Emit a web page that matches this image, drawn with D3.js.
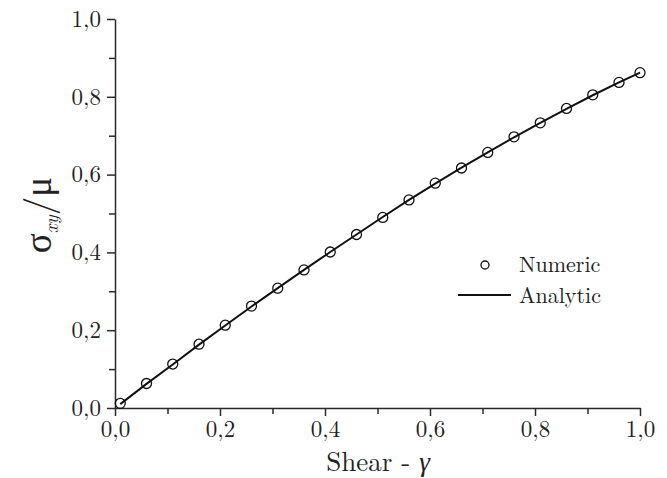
<!DOCTYPE html>
<html lang="en">
<head>
  <meta charset="utf-8">
  <title>Shear stress</title>
  <script src="https://d3js.org/d3.v7.min.js" charset="utf-8"></script>
</head>
<body style="margin:0; background:#fff;">
  <svg id="chart" width="667" height="478" xmlns="http://www.w3.org/2000/svg"></svg>
  <script type="text/javascript">
    // values
    var gamma = [0.01, 0.06, 0.11, 0.16, 0.21, 0.26, 0.31, 0.36, 0.41, 0.46, 0.51,
                 0.56, 0.61, 0.66, 0.71, 0.76, 0.81, 0.86, 0.91, 0.96, 1.0];
    var numeric = [0.012, 0.063, 0.113, 0.164, 0.213, 0.262, 0.308, 0.355, 0.401, 0.446, 0.490,
                   0.535, 0.578, 0.617, 0.657, 0.697, 0.733, 0.770, 0.805, 0.837, 0.862];
    var analytic = [0.010, 0.062, 0.112, 0.163, 0.212, 0.261, 0.308, 0.355, 0.401, 0.446, 0.491,
                    0.535, 0.577, 0.618, 0.657, 0.696, 0.733, 0.769, 0.804, 0.837, 0.862];
    var majorTicks = [0, 0.2, 0.4, 0.6, 0.8, 1.0];
    var minorTicks = [0.1, 0.3, 0.5, 0.7, 0.9];
    var legendLabels = ["Numeric", "Analytic"];

    var serif = "'Latin Modern Roman', 'Liberation Serif', serif";
    var ink = "#222";
    var svg = d3.select("#chart");
    var x = d3.scaleLinear().domain([0, 1]).range([115, 640]);
    var y = d3.scaleLinear().domain([0, 1]).range([408, 19]);
    var fmt = function(d) { return d3.format(".1f")(d).replace(".", ","); };

    function styleAxis(g) {
      g.selectAll("path, line").attr("stroke", "#2a2a2a").attr("stroke-width", 1.5);
      g.selectAll("text").style("font-family", serif).style("font-size", "23px").attr("fill", ink);
    }

    // minor ticks
    svg.append("g").attr("transform", "translate(0,408)")
      .call(d3.axisBottom(x).tickValues(minorTicks).tickSize(6).tickFormat(""))
      .call(styleAxis)
      .select(".domain").remove();
    svg.append("g").attr("transform", "translate(115,0)")
      .call(d3.axisLeft(y).tickValues(minorTicks).tickSize(6).tickFormat(""))
      .call(styleAxis)
      .select(".domain").remove();

    // major ticks
    svg.append("g").attr("transform", "translate(0,408)")
      .call(d3.axisBottom(x).tickValues(majorTicks).tickSize(8).tickSizeOuter(0).tickPadding(5).tickFormat(fmt))
      .call(styleAxis);
    svg.append("g").attr("transform", "translate(115,0)")
      .call(d3.axisLeft(y).tickValues(majorTicks).tickSize(8).tickSizeOuter(0).tickPadding(6).tickFormat(fmt))
      .call(styleAxis);

    // analytic line
    var line = d3.line()
      .x(function(d, i) { return x(gamma[i]); })
      .y(function(d) { return y(d); });
    svg.append("path").datum(analytic)
      .attr("d", line)
      .attr("fill", "none")
      .attr("stroke", "#111")
      .attr("stroke-width", 2);

    // numeric points
    svg.append("g").selectAll("circle").data(numeric).enter()
      .append("circle")
      .attr("cx", function(d, i) { return x(gamma[i]); })
      .attr("cy", function(d) { return y(d); })
      .attr("r", 5)
      .attr("fill", "none")
      .attr("stroke", "#111")
      .attr("stroke-width", 1.3);

    // axis labels
    var xlab = svg.append("text")
      .attr("x", 378).attr("y", 471)
      .attr("text-anchor", "middle")
      .attr("fill", ink)
      .style("font-family", serif)
      .style("font-size", "27px");
    xlab.append("tspan").text("Shear - ");
    xlab.append("tspan").style("font-style", "italic").text("γ");

    var ylab = svg.append("text")
      .attr("transform", "translate(51,215) rotate(-90)")
      .attr("text-anchor", "middle")
      .attr("fill", ink)
      .style("font-family", serif)
      .style("font-size", "37px");
    ylab.append("tspan").text("σ");
    ylab.append("tspan").style("font-size", "19px").style("font-style", "italic")
      .attr("dy", 7).text("xy");
    ylab.append("tspan").attr("dy", -7).text("/μ");

    // legend
    var legend = svg.append("g");
    legend.append("circle")
      .attr("cx", 485).attr("cy", 265).attr("r", 4)
      .attr("fill", "none").attr("stroke", "#111").attr("stroke-width", 1.3);
    legend.append("line")
      .attr("x1", 458).attr("x2", 511).attr("y1", 295).attr("y2", 295)
      .attr("stroke", "#111").attr("stroke-width", 2);
    legend.selectAll("text.leg").data(legendLabels).enter()
      .append("text")
      .attr("class", "leg")
      .attr("x", 519)
      .attr("y", function(d, i) { return 272 + i * 31; })
      .attr("fill", ink)
      .style("font-family", serif)
      .style("font-size", "22px")
      .text(function(d) { return d; });
  </script>
</body>
</html>
